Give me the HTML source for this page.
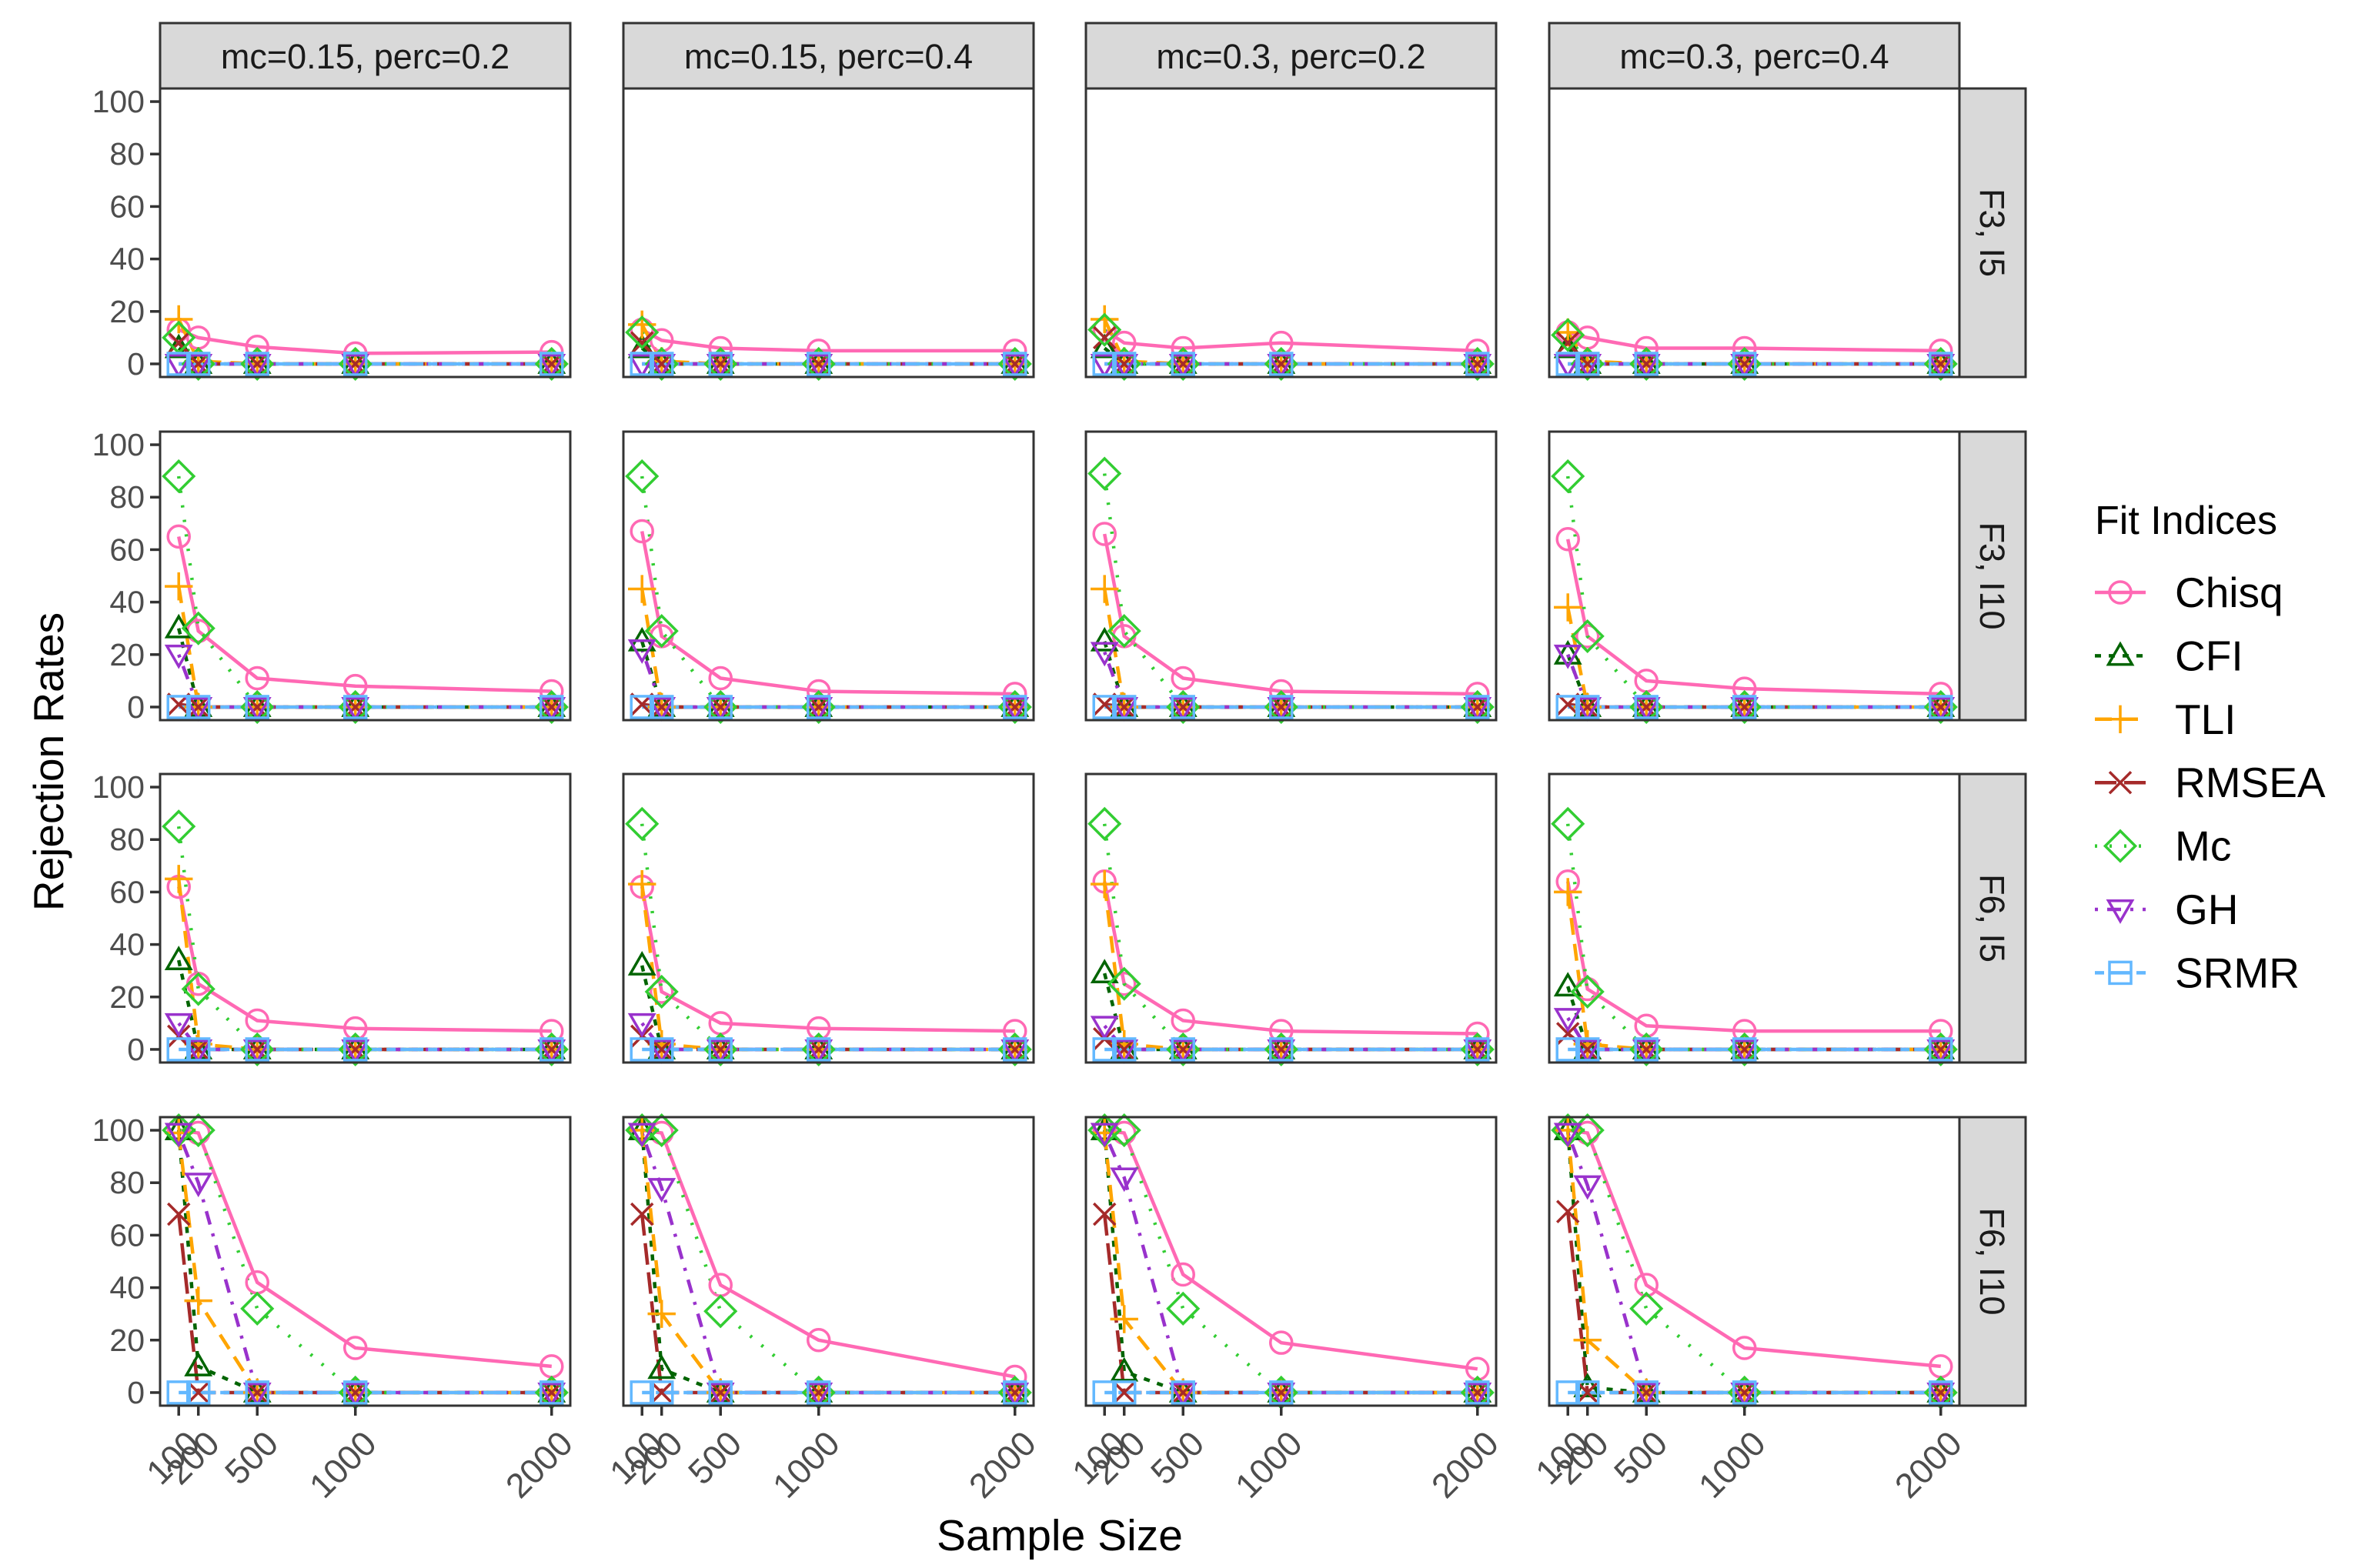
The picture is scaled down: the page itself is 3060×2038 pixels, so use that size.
<!DOCTYPE html>
<html><head><meta charset="utf-8"><style>
html,body{margin:0;padding:0;background:#fff;}
svg{display:block;font-family:"Liberation Sans",Arial,sans-serif;}
</style></head><body>
<svg id="chart" xmlns="http://www.w3.org/2000/svg" width="3060" height="2038" viewBox="0 0 3060 2038">
<rect width="3060" height="2038" fill="#fff"/>
<g id="panels"></g>
<text x="1377" y="2015" font-size="57" text-anchor="middle" fill="#000">Sample Size</text>
<text x="0" y="0" font-size="55" text-anchor="middle" fill="#000" transform="translate(82,990) rotate(-90)">Rejection Rates</text>
<g id="legend"></g>
</svg>
<script>
const sampleSizes = [100, 200, 500, 1000, 2000];
const yTicks = [0, 20, 40, 60, 80, 100];
const colLabels = ["mc=0.15, perc=0.2", "mc=0.15, perc=0.4", "mc=0.3, perc=0.2", "mc=0.3, perc=0.4"];
const rowLabels = ["F3, I5", "F3, I10", "F6, I5", "F6, I10"];
const seriesNames = ["Chisq", "CFI", "TLI", "RMSEA", "Mc", "GH", "SRMR"];
// values[row][col] = 5 values per series
const chisqVals = [
 [[13,10,6.5,4,4.5],[13,9,6,5,5],[13,8,6,8,5],[12,10,6,6,5]],
 [[65,29,11,8,6],[67,27,11,6,5],[66,27,11,6,5],[64,27,10,7,5]],
 [[62,25,11,8,7],[62,22,10,8,7],[64,25,11,7,6],[64,23,9,7,7]],
 [[100,99,42,17,10],[100,99,41,20,6],[100,99,45,19,9],[100,99,41,17,10]]];
const cfiVals = [
 [[6,0,0,0,0],[6,0,0,0,0],[6,0,0,0,0],[6,0,0,0,0]],
 [[30,0,0,0,0],[25,0,0,0,0],[25,0,0,0,0],[20,0,0,0,0]],
 [[34,0,0,0,0],[32,0,0,0,0],[29,0,0,0,0],[24,0,0,0,0]],
 [[100,10,0,0,0],[100,9,0,0,0],[100,8,0,0,0],[100,2,0,0,0]]];
const tliVals = [
 [[17,1,0,0,0],[15,1,0,0,0],[17,1,0,0,0],[12,1,0,0,0]],
 [[46,0,0,0,0],[45,0,0,0,0],[45,0,0,0,0],[38,0,0,0,0]],
 [[65,2,0,0,0],[63,2,0,0,0],[63,2,0,0,0],[60,2,0,0,0]],
 [[99,35,0,0,0],[100,30,0,0,0],[99,28,0,0,0],[100,20,0,0,0]]];
const rmseaVals = [
 [[8,0,0,0,0],[8,0,0,0,0],[10,0,0,0,0],[8,0,0,0,0]],
 [[1,0,0,0,0],[1,0,0,0,0],[1,0,0,0,0],[1,0,0,0,0]],
 [[5,0,0,0,0],[5,0,0,0,0],[4,0,0,0,0],[6,0,0,0,0]],
 [[68,0,0,0,0],[68,0,0,0,0],[68,0,0,0,0],[69,0,0,0,0]]];
const mcVals = [
 [[10,0,0,0,0],[12,0,0,0,0],[13,0,0,0,0],[11,0,0,0,0]],
 [[88,30,0,0,0],[88,29,0,0,0],[89,29,0,0,0],[88,27,0,0,0]],
 [[85,23,0,0,0],[86,22,0,0,0],[86,25,0,0,0],[86,22,0,0,0]],
 [[100,100,32,0,0],[100,100,31,0,0],[100,100,32,0,0],[100,100,32,0,0]]];
const ghVals = [
 [[0,0,0,0,0],[0,0,0,0,0],[0,0,0,0,0],[0,0,0,0,0]],
 [[20,0,0,0,0],[22,0,0,0,0],[21,0,0,0,0],[20,0,0,0,0]],
 [[10,0,0,0,0],[10,0,0,0,0],[9,0,0,0,0],[12,0,0,0,0]],
 [[99,80,0,0,0],[99,78,0,0,0],[99,82,0,0,0],[99,79,0,0,0]]];
const srmrVals = [
 [[0,0,0,0,0],[0,0,0,0,0],[0,0,0,0,0],[0,0,0,0,0]],
 [[0,0,0,0,0],[0,0,0,0,0],[0,0,0,0,0],[0,0,0,0,0]],
 [[0,0,0,0,0],[0,0,0,0,0],[0,0,0,0,0],[0,0,0,0,0]],
 [[0,0,0,0,0],[0,0,0,0,0],[0,0,0,0,0],[0,0,0,0,0]]];

const allVals = [chisqVals, cfiVals, tliVals, rmseaVals, mcVals, ghVals, srmrVals];
const colors = ["#ff69b4","#006400","#ffa500","#a52a2a","#32cd32","#9932cc","#63b8ff"];
const dashes = ["", "8,10", "22,12", "28,10", "3,16", "4,12,18,12", "12,6,30,6"];
const shapes = ["circle","tri","plus","cross","diamond","tridown","square"];

const NS = "http://www.w3.org/2000/svg";
const PW = 533, PH = 375;
const colX = [208, 810, 1411, 2013];
const rowY = [115, 561, 1006, 1452];
function xScale(v, c){ return colX[c] + (v - 5) / 2090 * PW; }
function yScale(v, r){ return rowY[r] + PH - (v + 5) / 110 * PH; }
function mk(tag, attrs, parent){ const e = document.createElementNS(NS, tag); for (const k in attrs) e.setAttribute(k, attrs[k]); if (parent) parent.appendChild(e); return e; }

function drawShape(g, shape, x, y, color){
  const sw = 3.5, s = 14;
  let e;
  if (shape==="circle") e = mk("circle",{cx:x,cy:y,r:s,fill:"none",stroke:color,"stroke-width":sw},g);
  else if (shape==="tri") e = mk("polygon",{points:`${x},${y-s*1.1} ${x-s*1.1},${y+s*0.8} ${x+s*1.1},${y+s*0.8}`,fill:"none",stroke:color,"stroke-width":sw},g);
  else if (shape==="tridown") e = mk("polygon",{points:`${x},${y+s*1.1} ${x-s*1.1},${y-s*0.8} ${x+s*1.1},${y-s*0.8}`,fill:"none",stroke:color,"stroke-width":sw},g);
  else if (shape==="plus") e = mk("path",{d:`M${x-s*1.3},${y}H${x+s*1.3}M${x},${y-s*1.3}V${y+s*1.3}`,stroke:color,"stroke-width":sw,fill:"none"},g);
  else if (shape==="cross") e = mk("path",{d:`M${x-s},${y-s}L${x+s},${y+s}M${x-s},${y+s}L${x+s},${y-s}`,stroke:color,"stroke-width":sw,fill:"none"},g);
  else if (shape==="diamond") e = mk("polygon",{points:`${x},${y-s*1.4} ${x+s*1.4},${y} ${x},${y+s*1.4} ${x-s*1.4},${y}`,fill:"none",stroke:color,"stroke-width":sw},g);
  else e = mk("rect",{x:x-s,y:y-s,width:2*s,height:2*s,fill:"none",stroke:color,"stroke-width":sw},g);
  return e;
}

const panels = document.getElementById("panels");
for (let r=0;r<4;r++){
  for (let c=0;c<4;c++){
    const g = mk("g",{},panels);
    
    
    const X0 = colX[c], Y0 = rowY[r];
    mk("rect",{x:X0,y:Y0,width:PW,height:PH,fill:"#fff"},g);
    for (let s=0;s<7;s++){
      const vals = allVals[s][r][c];
      const pts = vals.map((v,i)=>xScale(sampleSizes[i],c).toFixed(1)+","+yScale(v,r).toFixed(1)).join(" ");
      const pl = mk("polyline",{points:pts,fill:"none",stroke:colors[s],"stroke-width":4.5,"stroke-linecap":"butt"},g);
      if (dashes[s]) pl.setAttribute("stroke-dasharray",dashes[s]);
      
      
    }
    for (let s=0;s<7;s++){
      const vals = allVals[s][r][c];
      vals.forEach((v,i)=>{
        const m = drawShape(g, shapes[s], xScale(sampleSizes[i],c), yScale(v,r), colors[s]);
        
        
      });
    }
    mk("rect",{x:X0,y:Y0,width:PW,height:PH,fill:"none",stroke:"#333","stroke-width":3},g);
    if (c===0){
      yTicks.forEach(t=>{
        const y = yScale(t,r);
        mk("line",{x1:X0-13,x2:X0,y1:y,y2:y,stroke:"#333","stroke-width":3.5},g);
        const tx = mk("text",{x:X0-20,y:y+14,"font-size":41,"text-anchor":"end",fill:"#4d4d4d"},g);
        tx.textContent = t;
        
        
      });
    }
    if (r===3){
      sampleSizes.forEach(v=>{
        const x = xScale(v,c);
        mk("line",{x1:x,x2:x,y1:Y0+PH,y2:Y0+PH+13,stroke:"#333","stroke-width":3.5},g);
        const tx = mk("text",{x:0,y:0,"font-size":45,"text-anchor":"end",fill:"#4d4d4d",transform:`translate(${x+30},${Y0+PH+52}) rotate(-45)`},g);
        tx.textContent = v;
        
        
      });
    }
    if (r===0){
      const st = mk("rect",{x:X0,y:30,width:PW,height:85,fill:"#d9d9d9",stroke:"#333","stroke-width":3},g);
      
      
      const tx = mk("text",{x:X0+PW/2,y:89,"font-size":45,"text-anchor":"middle",fill:"#1a1a1a"},g);
      tx.textContent = colLabels[c];
      
      
    }
    if (c===3){
      const st = mk("rect",{x:X0+PW,y:Y0,width:86,height:PH,fill:"#d9d9d9",stroke:"#333","stroke-width":3},g);
      
      
      const tx = mk("text",{x:0,y:0,"font-size":45,"text-anchor":"middle",fill:"#1a1a1a",transform:`translate(${X0+PW+27},${Y0+PH/2}) rotate(90)`},g);
      tx.textContent = rowLabels[r];
      
      
    }
  }
}
const lg = document.getElementById("legend");
const lt = mk("text",{x:2722,y:694,"font-size":52,fill:"#000"},lg);
lt.textContent = "Fit Indices";


seriesNames.forEach((n,s)=>{
  const y = 770 + s*82.4;
  const eg = mk("g",{},lg);
  
  
  const ln = mk("line",{x1:2722,x2:2788,y1:y,y2:y,stroke:colors[s],"stroke-width":4.5},eg);
  if (dashes[s]) ln.setAttribute("stroke-dasharray",dashes[s]);
  drawShape(eg, shapes[s], 2755, y, colors[s]);
  const tx = mk("text",{x:2826,y:y+19,"font-size":55,fill:"#000"},eg);
  tx.textContent = n;
});
</script>
</body></html>
